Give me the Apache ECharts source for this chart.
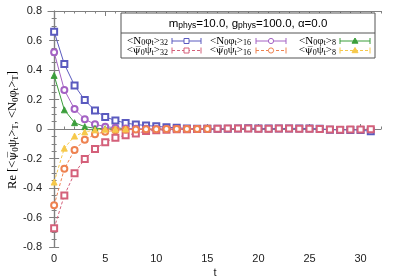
<!DOCTYPE html>
<html><head><meta charset="utf-8">
<script src="https://cdn.jsdelivr.net/npm/echarts@6/dist/echarts.min.js"></script>
<style>html,body{margin:0;padding:0;background:#fff}#c{width:399px;height:279px}</style>
</head><body><div id="c"></div>
<script>
const t32 = [0,1,2,3,4,5,6,7,8,9,10,11,12,13,14,15,16,17,18,19,20,21,22,23,24,25,26,27,28,29,30,31];
const t16 = [0,1,2,3,4,5,6,7,8,9,10,11,12,13,14,15];
const t8 = [0,1,2,3,4,5,6,7];
const N32 = [0.66,0.44,0.295,0.196,0.125,0.082,0.058,0.04,0.03,0.024,0.018,0.012,0.008,0.004,0.002,0.001,0.001,0.002,0.003,0.005,0.004,0.003,0.003,0.004,0.004,0.003,0.002,-0.005,-0.006,-0.006,-0.007,-0.016];
const P32 = [-0.673,-0.45,-0.30,-0.204,-0.136,-0.089,-0.059,-0.042,-0.03,-0.014,-0.009,-0.005,-0.002,-0.001,0.0,0.001,0.002,0.003,0.004,0.004,0.002,0.002,0.003,0.003,0.002,0.002,0.0,-0.004,-0.005,-0.004,-0.003,-0.001];
const N16 = [0.52,0.265,0.135,0.066,0.032,0.016,0.008,0.004,0.002,0.001,0.0,0.0,0.0,0.0,0.0,0.0];
const P16 = [-0.517,-0.27,-0.143,-0.073,-0.036,-0.018,-0.009,-0.005,-0.003,-0.002,-0.001,0.0,0.0,0.0,0.0,0.0];
const N8 = [0.363,0.13,0.043,0.016,0.005,0.002,0.001,0.0];
const P8 = [-0.36,-0.13,-0.048,-0.02,-0.006,-0.002,-0.001,0.0];
const xMajor = [0,5,10,15,20,25,30];
const xMinor = [0,1,2,3,4,5,6,7,8,9,10,11,12,13,14,15,16,17,18,19,20,21,22,23,24,25,26,27,28,29,30,31,32];

const C = {b:'#5a5abf', p:'#a462c4', g:'#3b9e3b', r:'#d4607a', o:'#ee8250', y:'#f6c84a'};
const pair = (ts, vs) => ts.map((t,i)=>[t, vs[i]]);
function ser(name, ts, vs, color, sym, dashed){
  return {name, type:'line', data: pair(ts, vs), symbol: sym, symbolSize: 6,
    lineStyle:{color, width:1, type: dashed?[3,2]:'solid'},
    itemStyle:{color: color, borderColor: color, borderWidth:0.9},
    showSymbol:true, animation:false, z:3};
}
const axisCol = '#808080';
const fontSans = 'Liberation Sans';
const fontSerif = 'Liberation Serif, DejaVu Serif';
const gLeft=48, gRight=381, gTop=11, gBottom=247;

function xAx(pos, major, labels){
  return {type:'value', min:-0.6, max:32, position:pos, gridIndex:0,
    axisLine:{show:major, lineStyle:{color:axisCol, width:1.2}},
    axisTick:{show:true, inside:true, length: major?5:2.5, customValues: major?xMajor:xMinor, lineStyle:{color:axisCol}},
    axisLabel:{show:labels, customValues:xMajor, color:'#222', fontFamily:fontSans, fontSize:11, margin:6},
    splitLine:{show:false}};
}
const yAx = (pos, labels) => ({type:'value', min:-0.8, max:0.8, interval:0.2, position:pos,
  axisLine:{show:true, lineStyle:{color:axisCol, width:1.2}},
  axisTick:{show:true, inside:true, length:5, lineStyle:{color:axisCol}},
  minorTick:{show:true, splitNumber:4, length:2.5, lineStyle:{color:axisCol}},
  axisLabel:{show:labels, color:'#222', fontFamily:fontSans, fontSize:11, margin:6,
    formatter: v => Math.abs(v)<1e-9 ? '0' : v.toFixed(1)},
  splitLine:{show:false}});

const rich = {
  a:{fontFamily:fontSerif, fontSize:11, color:'#111', lineHeight:13},
  p:{fontFamily:'DejaVu Serif', fontSize:10, color:'#111', lineHeight:13},
  s:{fontFamily:fontSerif, fontSize:8, color:'#111', lineHeight:13, padding:[4,0,0,0]}
};
const richS = {
  a:{fontFamily:fontSans, fontSize:11.5, color:'#111', lineHeight:14},
  s:{fontFamily:fontSans, fontSize:8.5, color:'#111', lineHeight:14, padding:[5,0,0,0]}
};
const lblN = sub => '{a|<N}{s|0}{a|φ}{s|t}{a|>}{s|' + sub + '}';
const lblP = sub => '{a|<}{p|ψ\u0305}{s|0}{a|ψ}{s|t}{a|>}{s|' + sub + '}';

function sample(x1, x2, y, color, sym, dashed){
  const els = [];
  els.push({type:'line', shape:{x1, y1:y, x2, y2:y}, style:{stroke:color, lineWidth:1, lineDash: dashed?[3,2]:null}});
  els.push({type:'line', shape:{x1, y1:y-3, x2:x1, y2:y+3}, style:{stroke:color, lineWidth:1}});
  els.push({type:'line', shape:{x1:x2, y1:y-3, x2:x2, y2:y+3}, style:{stroke:color, lineWidth:1}});
  const cx=(x1+x2)/2;
  if(sym==='rect') els.push({type:'rect', shape:{x:cx-2.5, y:y-2.5, width:5, height:5}, style:{fill:'#fff', stroke:color, lineWidth:1}});
  else if(sym==='circle') els.push({type:'circle', shape:{cx, cy:y, r:2.6}, style:{fill:'#fff', stroke:color, lineWidth:1}});
  else els.push({type:'polygon', shape:{points:[[cx,y-3],[cx-3,y+2.2],[cx+3,y+2.2]]}, style:{fill:color, stroke:color}});
  return els;
}
const txt = (x, y, s, align) => ({type:'text', x, y, style:{text:s, rich, align:align||'right', verticalAlign:'middle'}});

const graphics = [
  {type:'rect', shape:{x:121, y:13, width:254, height:45}, style:{fill:'#fff', stroke:'#555', lineWidth:1}, z:10},
  {type:'line', shape:{x1:121, y1:33, x2:375, y2:33}, style:{stroke:'#555', lineWidth:1}, z:10},
  {type:'text', x:248, y:23.5, z:11, style:{text:'{a|m}{s|phys}{a|=10.0, g}{s|phys}{a|=100.0, α=0.0}', rich:richS, align:'center', verticalAlign:'middle'}},
  txt(168, 41, lblN('32')), txt(168, 50.5, lblP('32')),
  txt(251, 41, lblN('16')), txt(251, 50.5, lblP('16')),
  txt(336, 41, lblN('8')), txt(336, 50.5, lblP('8')),
  ...sample(172, 201, 41, C.b, 'rect', false),
  ...sample(172, 201, 50.5, C.r, 'rect', true),
  ...sample(256, 286, 41, C.p, 'circle', false),
  ...sample(256, 286, 50.5, C.o, 'circle', true),
  ...sample(340, 370, 41, C.g, 'tri', false),
  ...sample(340, 370, 50.5, C.y, 'tri', true),
  {type:'text', x:13, y:130, rotation:Math.PI/2, z:11,
   style:{text:'{a|Re [<}{p|ψ\u0305}{s|0}{a|ψ}{s|t}{a|>}{s|T}{a|, <N}{s|0}{a|φ}{s|t}{a|>}{s|T}{a|]}',
     rich:{a:{fontFamily:fontSerif, fontSize:12.5, color:'#111', lineHeight:15}, p:{fontFamily:'DejaVu Serif', fontSize:11.5, color:'#111', lineHeight:15}, s:{fontFamily:fontSerif, fontSize:9, color:'#111', lineHeight:15, padding:[5,0,0,0]}},
     align:'center', verticalAlign:'middle'}},
  {type:'text', x:215, y:273, style:{text:'t', font:'11px Liberation Sans', fill:'#222', align:'center', verticalAlign:'middle'}}
].map(g => Object.assign({z: g.z||10}, g));

const chart = echarts.init(document.getElementById('c'), null, {renderer:'canvas'});
chart.setOption({
  animation:false,
  grid:{left:gLeft, top:gTop, width:gRight-gLeft, height:gBottom-gTop},
  xAxis:[xAx('bottom', true, true), xAx('bottom', false, false), xAx('top', true, false), xAx('top', false, false)],
  yAxis:[yAx('left', true), yAx('right', false)],
  series:[
    ser('N32', t32, N32, C.b, 'emptyRect', false),
    ser('N16', t16, N16, C.p, 'emptyCircle', false),
    ser('N8', t8, N8, C.g, 'triangle', false),
    ser('P32', t32, P32, C.r, 'emptyRect', true),
    ser('P16', t16, P16, C.o, 'emptyCircle', true),
    ser('P8', t8, P8, C.y, 'triangle', true)
  ],
  graphic: graphics
});
</script></body></html>
